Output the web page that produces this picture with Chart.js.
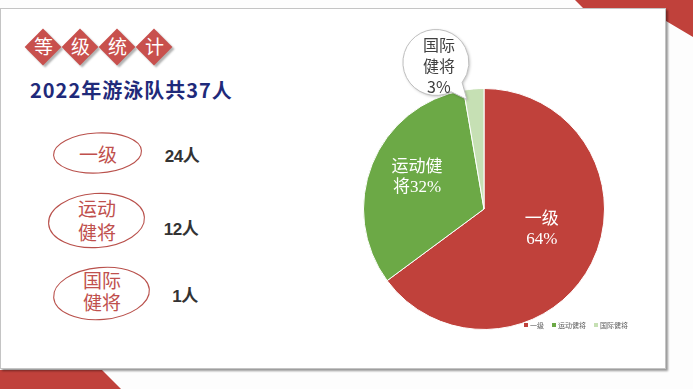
<!DOCTYPE html>
<html><head><meta charset="utf-8">
<script src="https://cdn.jsdelivr.net/npm/chart.js@4"></script>
<style>
html,body{margin:0;padding:0;}
body{width:693px;height:389px;position:relative;overflow:hidden;background:#fdfdfd;font-family:"Noto Sans CJK SC",sans-serif;}
.red{position:absolute;left:0;top:0;width:693px;height:389px;background:#C0413B;}
#tr{clip-path:polygon(575px 0,693px 0,693px 37px,666px 21px,596px 21px);}
#bl{clip-path:polygon(0 370px,102px 370px,121px 389px,0 389px);}
#panel{position:absolute;left:0;top:8px;width:664px;height:359px;background:#fff;border:1px solid #c4c4c4;box-shadow:2px 2px 2px rgba(0,0,0,.4);}
.dia{position:absolute;width:26px;height:26px;background:#C8504D;transform:rotate(45deg);box-shadow:3px 0 2px rgba(0,0,0,.3);}
.dch{position:absolute;width:37px;text-align:center;color:#fff;font-size:19px;line-height:20px;}
.t{position:absolute;transform:translate(-50%,-50%);white-space:nowrap;text-align:center;}
.oval{color:#C0504D;font-size:19px;}
.cnt{color:#333;font-size:17px;font-weight:bold;font-family:"Liberation Sans","Noto Sans CJK SC",sans-serif;letter-spacing:-0.5px;}
#sub{position:absolute;left:30px;top:78px;color:#1F2A7A;font-size:20px;font-weight:bold;letter-spacing:1px;line-height:24px;white-space:nowrap;}
svg{position:absolute;left:0;top:0;}
canvas{position:absolute;left:0;top:0;}
</style></head>
<body>
<div id="tr" class="red"></div>
<div id="bl" class="red"></div>
<div id="panel"></div>

<div class="dia" style="left:30px;top:34px"></div>
<div class="dia" style="left:67px;top:34px"></div>
<div class="dia" style="left:104px;top:34px"></div>
<div class="dia" style="left:141px;top:34px"></div>
<div class="dch" style="left:25px;top:36px">等</div>
<div class="dch" style="left:62px;top:36px">级</div>
<div class="dch" style="left:99px;top:36px">统</div>
<div class="dch" style="left:136px;top:36px">计</div>

<div id="sub">2022年游泳队共37人</div>

<svg width="693" height="389">
  <ellipse cx="97.5" cy="153" rx="44" ry="20" fill="none" stroke="#B9514C" stroke-width="1.1" transform="rotate(-3 97.5 153)"/>
  <ellipse cx="96.5" cy="220.5" rx="48" ry="27" fill="none" stroke="#B9514C" stroke-width="1.1" transform="rotate(-4 96.5 220.5)"/>
  <ellipse cx="101.5" cy="293.5" rx="48" ry="26" fill="none" stroke="#B9514C" stroke-width="1.1" transform="rotate(-5 101.5 293.5)"/>
</svg>

<div class="t oval" style="left:98px;top:154px;line-height:22px">一级</div>
<div class="t oval" style="left:97px;top:220px;line-height:24px">运动<br>健将</div>
<div class="t oval" style="left:102px;top:291px;line-height:22px">国际<br>健将</div>

<div class="t cnt" style="left:182px;top:154px">24人</div>
<div class="t cnt" style="left:181px;top:227px">12人</div>
<div class="t cnt" style="left:185px;top:294px">1人</div>

<canvas id="c" width="693" height="389"></canvas>

<script>
// ---- data ----
const categories = ['一级', '运动健将', '国际健将'];
const counts = [24, 12, 1];
const percentLabels = ['64%', '32%', '3%'];
const sliceLabelLines = [['一级', '64%'], ['运动健', '将32%'], ['国际', '健将', '3%']];

const sliceLabels = {
  id: 'sliceLabels',
  afterDatasetsDraw(chart, args, opts) {
    const ctx = chart.ctx;
    const meta = chart.getDatasetMeta(0);
    meta.data.forEach((arc, i) => {
      const p = arc.getProps(['x', 'y', 'startAngle', 'endAngle', 'outerRadius'], true);
      const mid = (p.startAngle + p.endAngle) / 2;
      const cfg = opts.place[i];
      const lines = sliceLabelLines[i];
      ctx.save();
      if (cfg.type === 'inside') {
        const a = mid + cfg.dAng * Math.PI / 180;
        const r = cfg.f * p.outerRadius;
        const lx = p.x + Math.cos(a) * r, ly = p.y + Math.sin(a) * r;
        ctx.fillStyle = '#fff';
        ctx.font = '17px "Liberation Serif","Noto Sans CJK SC"';
        ctx.textAlign = 'center';
        ctx.textBaseline = 'middle';
        const lh = 20;
        lines.forEach((s, k) => ctx.fillText(s, lx, ly + (k - (lines.length - 1) / 2) * lh));
      } else {
        const a = mid + cfg.dAng * Math.PI / 180;
        const tr = cfg.f * p.outerRadius;
        const tx = p.x + Math.cos(a) * tr, ty = p.y + Math.sin(a) * tr;
        const bx = tx + cfg.dx, by = ty + cfg.dy, R = cfg.R;
        const th = Math.atan2(ty - by, tx - bx);
        ctx.beginPath();
        ctx.arc(bx, by, R, th + 0.22, th - 0.22 + Math.PI * 2);
        ctx.lineTo(tx, ty);
        ctx.closePath();
        ctx.shadowColor = 'rgba(0,0,0,0.25)';
        ctx.shadowBlur = 3;
        ctx.shadowOffsetX = 1;
        ctx.shadowOffsetY = 1;
        ctx.fillStyle = '#fff';
        ctx.fill();
        ctx.shadowColor = 'transparent';
        ctx.strokeStyle = '#bfbfbf';
        ctx.lineWidth = 1;
        ctx.stroke();
        ctx.fillStyle = '#404040';
        ctx.font = '16px "Noto Sans CJK SC"';
        ctx.textAlign = 'center';
        ctx.textBaseline = 'middle';
        const lh = 21;
        lines.forEach((s, k) => ctx.fillText(s, bx + cfg.tdx, by + cfg.tdy + (k - (lines.length - 1) / 2) * lh));
      }
      ctx.restore();
    });
    // legend
    const ds = chart.data.datasets[0];
    ctx.save();
    ctx.font = '7px "Noto Sans CJK SC"';
    ctx.textBaseline = 'middle';
    const sq = 4, gap = 2, itemGap = 8;
    const widths = chart.data.labels.map(l => sq + gap + ctx.measureText(l).width);
    const total = widths.reduce((s, w) => s + w, 0) + itemGap * (widths.length - 1);
    let x = opts.legendRight - total;
    const y = opts.legendY;
    chart.data.labels.forEach((l, i) => {
      ctx.fillStyle = ds.backgroundColor[i];
      ctx.fillRect(x, y - sq / 2, sq, sq);
      ctx.fillStyle = '#595959';
      ctx.fillText(l, x + sq + gap, y);
      x += widths[i] + itemGap;
    });
    ctx.restore();
  }
};

new Chart(document.getElementById('c'), {
  type: 'pie',
  data: {
    labels: categories,
    datasets: [{
      data: counts,
      backgroundColor: ['#C0413B', '#6CA946', '#C6E0B4'],
      borderColor: '#ffffff',
      borderWidth: 1
    }]
  },
  options: {
    responsive: false,
    animation: false,
    events: [],
    layout: { padding: { left: 363, right: 88, top: 88, bottom: 59 } },
    plugins: {
      legend: { display: false },
      tooltip: { enabled: false },
      sliceLabels: {
        legendRight: 628,
        legendY: 325,
        place: [
          { type: 'inside', f: 0.51, dAng: -7 },
          { type: 'inside', f: 0.615, dAng: 3.5 },
          { type: 'callout', f: 0.92, dAng: -4, dx: -31, dy: -37, R: 33, tdx: 3, tdy: 3 }
        ]
      }
    }
  },
  plugins: [sliceLabels]
});
</script>
</body></html>
